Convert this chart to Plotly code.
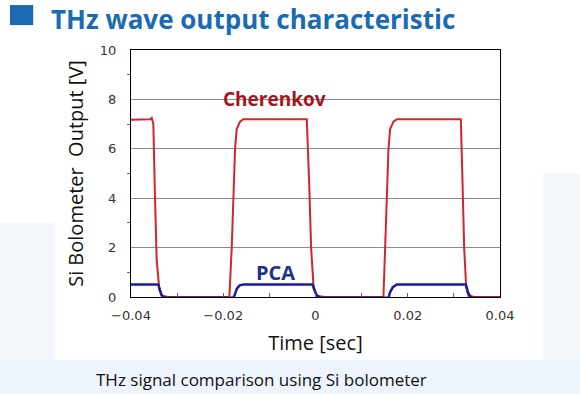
import plotly.graph_objects as go

# ---- data ----
cherenkov_t = [-0.0400, -0.0370, -0.0358, -0.03551, -0.03516, -0.03479, -0.03443, -0.03386, -0.03334, -0.0320,
               -0.0190, -0.01868, -0.01816, -0.01781, -0.01744, -0.01708, -0.01636, -0.01564,
               -0.0030, -0.00189, -0.00139, -0.00095, -0.00045, 0.00013, 0.0020,
               0.01450, 0.01473, 0.0151, 0.0156, 0.01582, 0.01618, 0.0169, 0.01764,
               0.0300, 0.03151, 0.03187, 0.03223, 0.03267, 0.03317, 0.0345, 0.0400]
cherenkov_v = [7.18, 7.18, 7.20, 7.25, 7.0, 4.0, 1.5, 0.3, 0.05, 0.0,
               0.0, 0.0, 2.0, 4.0, 6.0, 6.8, 7.1, 7.2,
               7.2, 7.2, 4.7, 2.0, 0.5, 0.05, 0.0,
               0.0, 0.0, 2.0, 4.7, 6.0, 6.8, 7.1, 7.2,
               7.2, 7.2, 4.7, 2.0, 0.4, 0.05, 0.0, 0.0]

pca_t = [-0.0400, -0.0350, -0.03408, -0.03371, -0.03334, -0.03262, -0.0250,
         -0.01781, -0.01744, -0.01708, -0.01651, -0.01564, -0.0050,
         -0.00067, -0.00024, 0.00028, 0.0010, 0.0080,
         0.01582, 0.01618, 0.01677, 0.01764, 0.0280,
         0.0326, 0.03304, 0.03354, 0.03425, 0.0400]
pca_v = [0.51, 0.51, 0.51, 0.28, 0.07, -0.03, -0.03,
         -0.03, 0.12, 0.33, 0.46, 0.51, 0.51,
         0.51, 0.28, 0.07, -0.03, -0.03,
         -0.03, 0.2, 0.4, 0.51, 0.51,
         0.51, 0.2, 0.03, -0.04, -0.04]

x_ticks = [-0.04, -0.02, 0, 0.02, 0.04]
x_tick_labels = ["\u22120.04", "\u22120.02", "0", "0.02", "0.04"]
y_ticks = [0, 2, 4, 6, 8, 10]

fig = go.Figure()
fig.add_trace(go.Scatter(x=cherenkov_t, y=cherenkov_v, mode="lines",
                         line=dict(color="#d0262c", width=2), name="Cherenkov"))
fig.add_trace(go.Scatter(x=pca_t, y=pca_v, mode="lines",
                         line=dict(color="#1c1c9c", width=2.5), name="PCA"))

tick_font = dict(family="DejaVu Sans", size=13, color="#333333")

fig.update_xaxes(range=[-0.04, 0.04], tickvals=x_ticks, ticktext=x_tick_labels,
                 showgrid=False, zeroline=False, showline=True, linecolor="#000000",
                 linewidth=1, mirror=True, ticks="inside", ticklen=4, tickcolor="#666666",
                 minor=dict(dtick=0.01, ticks="inside", ticklen=4, tickcolor="#666666"),
                 tickfont=tick_font, ticklabelstandoff=6,
                 title=dict(text="Time [sec]", font=dict(family="Open Sans", size=20, color="#111111"),
                            standoff=14))
fig.update_yaxes(range=[0, 10], tickvals=y_ticks, showgrid=True, gridcolor="#8a8a8a",
                 gridwidth=1, zeroline=False, showline=True, linecolor="#000000",
                 linewidth=1, mirror=True, ticks="", ticklabelstandoff=11,
                 minor=dict(tickvals=[1, 3, 5, 7, 9], ticks="outside", ticklen=3,
                            tickcolor="#666666", showgrid=False),
                 tickfont=tick_font,
                 title=dict(text="Si Bolometer  Output [V]",
                            font=dict(family="Open Sans", size=20, color="#111111"), standoff=10))

fig.add_annotation(x=-0.00898, y=8.03, text="<b>Cherenkov</b>", showarrow=False,
                   font=dict(family="Open Sans", size=19, color="#a3161d"))
fig.add_annotation(x=-0.00876, y=0.99, text="<b>PCA</b>", showarrow=False,
                   font=dict(family="Open Sans", size=20, color="#1d3289"))

# page title and caption
fig.add_annotation(xref="paper", yref="paper", x=-0.222, y=1.127, xanchor="left", yanchor="middle",
                   text="<b>THz wave output characteristic</b>", showarrow=False,
                   font=dict(family="Open Sans", size=26, color="#1a6ab4"))
fig.add_annotation(xref="paper", yref="paper", x=0.355, y=-0.335, xanchor="center", yanchor="middle",
                   text="THz signal comparison using Si bolometer", showarrow=False,
                   font=dict(family="Open Sans", size=17, color="#111111"))

# background tint and the square bullet
fig.add_shape(type="rect", xref="paper", yref="paper", x0=-0.4, x1=1.3, y0=-0.4, y1=-0.255,
              fillcolor="#eef4fb", line=dict(width=0), layer="below")
fig.add_shape(type="rect", xref="paper", yref="paper", x0=-0.4, x1=-0.205, y0=-0.255, y1=0.3,
              fillcolor="#f4f8fc", line=dict(width=0), layer="below")
fig.add_shape(type="rect", xref="paper", yref="paper", x0=1.115, x1=1.3, y0=-0.255, y1=0.5,
              fillcolor="#f4f8fc", line=dict(width=0), layer="below")
fig.add_shape(type="rect", xref="paper", yref="paper", x0=-0.328, x1=-0.265, y0=1.101, y1=1.182,
              fillcolor="#1a6ab4", line=dict(width=0))

fig.update_layout(width=580, height=394, margin=dict(l=131, r=80, t=50, b=97),
                  plot_bgcolor="#ffffff", paper_bgcolor="#ffffff", showlegend=False)

fig.write_html("out.html", config={"displayModeBar": False},
               post_script="document.body.style.margin='0';")
